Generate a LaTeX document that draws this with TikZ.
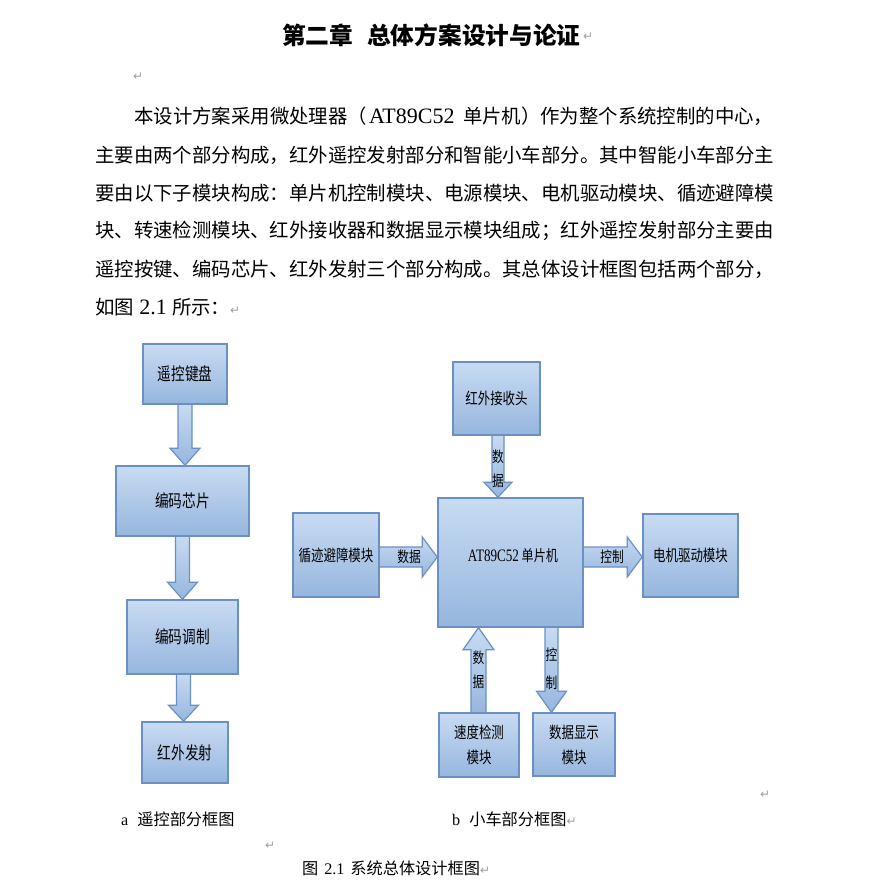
\documentclass[tikz,border=0pt]{standalone}
\usepackage{fontspec}
\setmainfont{Noto Sans CJK SC}
\newfontfamily\tnr{Liberation Serif}
\newfontfamily\tnrc[FakeStretch=0.75]{Liberation Serif}
\newfontfamily\dv{DejaVu Sans}
\newfontfamily\bxf[FakeStretch=0.78]{Noto Sans CJK SC}
\usetikzlibrary{calc,backgrounds}
\definecolor{boxtop}{RGB}{200,219,242}
\definecolor{boxbot}{RGB}{150,182,222}
\definecolor{boxline}{RGB}{106,144,196}
\definecolor{retgray}{RGB}{160,160,160}
\tikzset{
  blk/.style={draw=boxline, line width=1.5pt, top color=boxtop, bottom color=boxbot, inner sep=0pt, align=center},
  bl/.style={font=\bxf\fontsize{17.5}{25}\selectfont},
  br/.style={font=\bxf\fontsize{16}{25}\selectfont},
  barrow/.style={draw=boxline, line width=1.2pt, top color=boxtop, bottom color=boxbot, line join=miter},
  para/.style={anchor=west, inner sep=0pt, font=\fontsize{19.4}{22}\selectfont},
  capt/.style={anchor=west, inner sep=0pt, font=\fontsize{16.2}{18}\selectfont},
  ret/.style={text=retgray, inner sep=0pt, font=\dv\fontsize{12}{12}\selectfont},
  alab/.style={inner sep=0pt, align=center, font=\bxf\fontsize{15}{24}\selectfont},
}
\newcommand\retsym{{\dv\color{retgray}\fontsize{12}{12}\selectfont ↵}}
\newcommand\blkdown[5]{\path[barrow] let \p1=(#1), \p2=(#2) in (\x1-#3pt,\y1+2pt) -- (\x1+#3pt,\y1+2pt) -- (\x1+#3pt,\y2+#5pt) -- (\x1+#4pt,\y2+#5pt) -- (\x1,\y2) -- (\x1-#4pt,\y2+#5pt) -- (\x1-#3pt,\y2+#5pt) -- cycle;}
\newcommand\blkup[5]{\path[barrow] let \p1=(#1), \p2=(#2) in (\x1-#3pt,\y1-2pt) -- (\x1+#3pt,\y1-2pt) -- (\x1+#3pt,\y2-#5pt) -- (\x1+#4pt,\y2-#5pt) -- (\x1,\y2) -- (\x1-#4pt,\y2-#5pt) -- (\x1-#3pt,\y2-#5pt) -- cycle;}
\newcommand\blkright[5]{\path[barrow] let \p1=(#1), \p2=(#2) in (\x1-2pt,\y1+#3pt) -- (\x2-#5pt,\y1+#3pt) -- (\x2-#5pt,\y1+#4pt) -- (\x2,\y1) -- (\x2-#5pt,\y1-#4pt) -- (\x2-#5pt,\y1-#3pt) -- (\x1-2pt,\y1-#3pt) -- cycle;}
\begin{document}
\begin{tikzpicture}[x=1pt,y=-1pt]
\begin{scope}[on background layer]
\fill[white] (0,0) rectangle (882,884);
\end{scope}
\useasboundingbox (0,0) rectangle (882,884);

% title
\node[anchor=west, inner sep=0pt, font=\bfseries\fontsize{23.7}{26}\selectfont] (t1) at (282,35) {第二章};
\node[anchor=west, inner sep=0pt, font=\bfseries\fontsize{23.7}{26}\selectfont] (t2) at (367,35) {总体方案设计与论证};
\node[ret, anchor=west] (r0) at (583,37) {↵};
\node[ret, anchor=west] (r1a) at (133,77) {↵};

% paragraph
\node[para] (p1) at (134,116) {本设计方案采用微处理器（\makebox[96pt][l]{\hspace{2pt}\tnr\fontsize{22}{22}\selectfont AT89C52}单片机）作为整个系统控制的中心，};
\node[para] (p2) at (95,155) {主要由两个部分构成，红外遥控发射部分和智能小车部分。其中智能小车部分主};
\node[para] (p3) at (95,193) {要由以下子模块构成：单片机控制模块、电源模块、电机驱动模块、循迹避障模};
\node[para] (p4) at (95,231) {块、转速检测模块、红外接收器和数据显示模块组成；红外遥控发射部分主要由};
\node[para] (p5) at (95,269) {遥控按键、编码芯片、红外发射三个部分构成。其总体设计框图包括两个部分，};
\node[para] (p6) at (95,307) {如图\makebox[38pt]{\tnr\fontsize{22}{22}\selectfont 2.1}所示：\retsym};

% left diagram
\node[blk, bl, minimum width=84, minimum height=60] (k1) at (185,374) {遥控键盘};
\node[blk, bl, minimum width=133, minimum height=70] (k2) at (182.5,501) {编码芯片};
\node[blk, bl, minimum width=111, minimum height=74] (k3) at (182.5,637) {编码调制};
\node[blk, bl, minimum width=86, minimum height=61] (k4) at (185,752.5) {红外发射};

% right diagram
\node[blk, br, minimum width=87, minimum height=73] (rx) at (496.5,398.5) {红外接收头};
\node[blk, minimum width=145, minimum height=129] (mcu) at (510.5,562.5) {};
\node[inner sep=0pt, font=\bxf\fontsize{15.5}{18}\selectfont] (mcut) at (513,556) {{\tnrc\fontsize{17.5}{18}\selectfont AT89C52} 单片机};
\node[blk, br, minimum width=86, minimum height=84] (lt) at (336,555) {循迹避障模块};
\node[blk, br, minimum width=95, minimum height=83] (md) at (690.5,555.5) {电机驱动模块};
\node[blk, br, minimum width=80, minimum height=64] (sp) at (479,745) {速度检测\\模块};
\node[blk, br, minimum width=82, minimum height=63] (dd) at (574,744.5) {数据显示\\模块};

% arrows
\begin{scope}[on background layer]
\blkdown{k1.south}{k2.north}{7}{15}{17}
\blkdown{k2.south}{k3.north}{7}{15}{17}
\blkdown{$(k3.south)+(1,0)$}{k4.north}{7}{15}{16}
\blkdown{$(rx.south)+(1.5,0)$}{mcu.north}{6}{14}{15}
\blkright{$(lt.east)+(0,2)$}{mcu.west}{10}{20}{15}
\blkright{$(mcu.east)+(0,-5.5)$}{md.west}{10}{20}{15}
\blkup{$(sp.north)+(-0.5,0)$}{mcu.south}{7.5}{15.5}{22}
\blkdown{$(mcu.south)+(41,0)$}{dd.north}{6.5}{15}{21}
\end{scope}

% arrow labels
\node[alab] (l1) at (498,469) {数\\据};
\node[alab] (l2) at (409,557) {数据};
\node[alab] (l3) at (612,557) {控制};
\node[alab] (l4) at (478.5,670) {数\\据};
\node[alab, font=\bxf\fontsize{15}{28}\selectfont] (l5) at (551.5,669) {控\\制};

% captions
\node[ret, anchor=west] (r2) at (760,795) {↵};
\node[capt] (c1) at (121,819) {{\tnr a}\hspace{9pt}遥控部分框图};
\node[capt] (c2) at (452,819) {{\tnr b}\hspace{9pt}小车部分框图\retsym};
\node[ret, anchor=west] (r3) at (265,846) {↵};
\node[capt] (c3) at (302,868) {图\makebox[32pt]{\tnr 2.1}系统总体设计框图\retsym};
\end{tikzpicture}
\end{document}
